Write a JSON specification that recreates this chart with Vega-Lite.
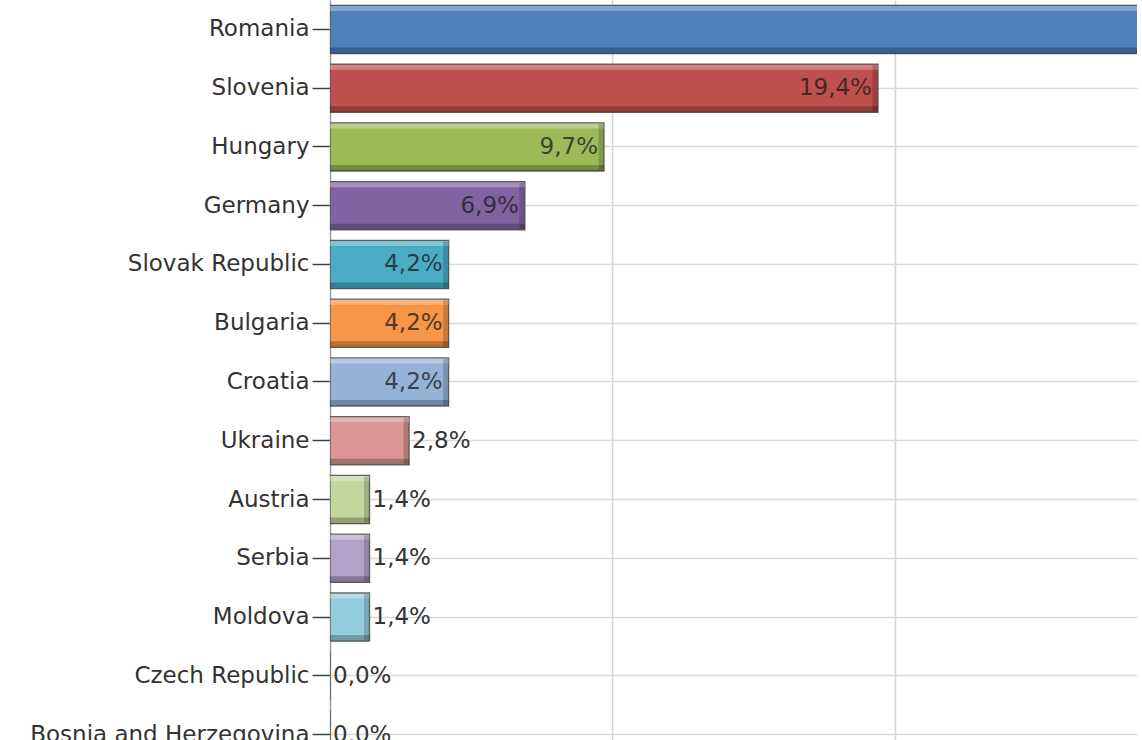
{
  "$schema": "https://vega.github.io/schema/vega-lite/v6.json",
  "width": 807,
  "height": 740,
  "autosize": {"type": "none"},
  "padding": {"left": 330, "top": 0, "right": 5, "bottom": 0},
  "config": {
    "locale": {"number": {"decimal": ",", "thousands": ".", "grouping": [3], "currency": ["", " €"]}},
    "view": {"stroke": null},
    "font": "DejaVu Sans"
  },
  "data": {
    "values": [
      {"country": "Romania", "share": 0.444},
      {"country": "Slovenia", "share": 0.194},
      {"country": "Hungary", "share": 0.097},
      {"country": "Germany", "share": 0.069},
      {"country": "Slovak Republic", "share": 0.042},
      {"country": "Bulgaria", "share": 0.042},
      {"country": "Croatia", "share": 0.042},
      {"country": "Ukraine", "share": 0.028},
      {"country": "Austria", "share": 0.014},
      {"country": "Serbia", "share": 0.014},
      {"country": "Moldova", "share": 0.014},
      {"country": "Czech Republic", "share": 0.0},
      {"country": "Bosnia and Herzegovina", "share": 0.0}
    ]
  },
  "encoding": {
    "y": {
      "field": "country",
      "type": "nominal",
      "sort": null,
      "scale": {"range": [0, 764], "paddingInner": 0.18, "paddingOuter": 0.09},
      "axis": {
        "title": null,
        "bandPosition": 0.5,
        "grid": true,
        "gridColor": "#d9d9d9",
        "gridWidth": 1.5,
        "tickSize": 18,
        "tickColor": "#404040",
        "tickWidth": 1.5,
        "domainColor": "#a0a0a0",
        "domainWidth": 1.5,
        "labelFontSize": 23,
        "labelColor": "#333333",
        "labelPadding": 3,
        "labelFont": "DejaVu Sans",
        "labelLimit": 400
      }
    },
    "x": {
      "field": "share",
      "type": "quantitative",
      "scale": {"domain": [0, 0.2857], "nice": false, "zero": true},
      "axis": {
        "title": null,
        "orient": "top",
        "values": [0.1, 0.2],
        "grid": true,
        "gridColor": "#d4d4d4",
        "gridWidth": 1.5,
        "labels": false,
        "ticks": false,
        "domain": false
      }
    }
  },
  "layer": [
    {
      "mark": {"type": "bar", "clip": true, "stroke": "#4a4a4a", "strokeWidth": 1.3, "strokeOpacity": 0.85},
      "encoding": {
        "color": {
          "field": "country",
          "type": "nominal",
          "sort": null,
          "legend": null,
          "scale": {
            "domain": ["Romania", "Slovenia", "Hungary", "Germany", "Slovak Republic", "Bulgaria", "Croatia", "Ukraine", "Austria", "Serbia", "Moldova", "Czech Republic", "Bosnia and Herzegovina"],
            "range": ["#4F81BD", "#C0504D", "#9BBB59", "#8064A2", "#4BACC6", "#F79646", "#95B3D7", "#D99694", "#C3D69B", "#B3A2C7", "#93CDDD", "#FAC090", "#A6A6A6"]
          }
        }
      }
    },
    {
      "mark": {"type": "bar", "clip": true, "height": 5, "yOffset": -21, "fill": "white", "opacity": 0.3}
    },
    {
      "mark": {"type": "bar", "clip": true, "height": 6, "yOffset": 21, "fill": "black", "opacity": 0.25}
    },
    {
      "transform": [{"filter": "datum.share > 0"}],
      "mark": {"type": "tick", "clip": true, "orient": "vertical", "size": 46, "thickness": 5, "xOffset": -3, "color": "black", "opacity": 0.18}
    },
    {
      "transform": [{"filter": "datum.share >= 0.04 && datum.share < 0.28"}],
      "mark": {"type": "text", "clip": true, "align": "right", "baseline": "middle", "dx": -6, "fontSize": 23, "font": "DejaVu Sans", "fill": "#1a1a1a", "opacity": 0.75},
      "encoding": {"text": {"field": "share", "type": "quantitative", "format": ".1%"}}
    },
    {
      "transform": [{"filter": "datum.share < 0.04"}],
      "mark": {"type": "text", "align": "left", "baseline": "middle", "dx": 3, "fontSize": 23, "font": "DejaVu Sans", "fill": "#333333"},
      "encoding": {"text": {"field": "share", "type": "quantitative", "format": ".1%"}}
    }
  ]
}
